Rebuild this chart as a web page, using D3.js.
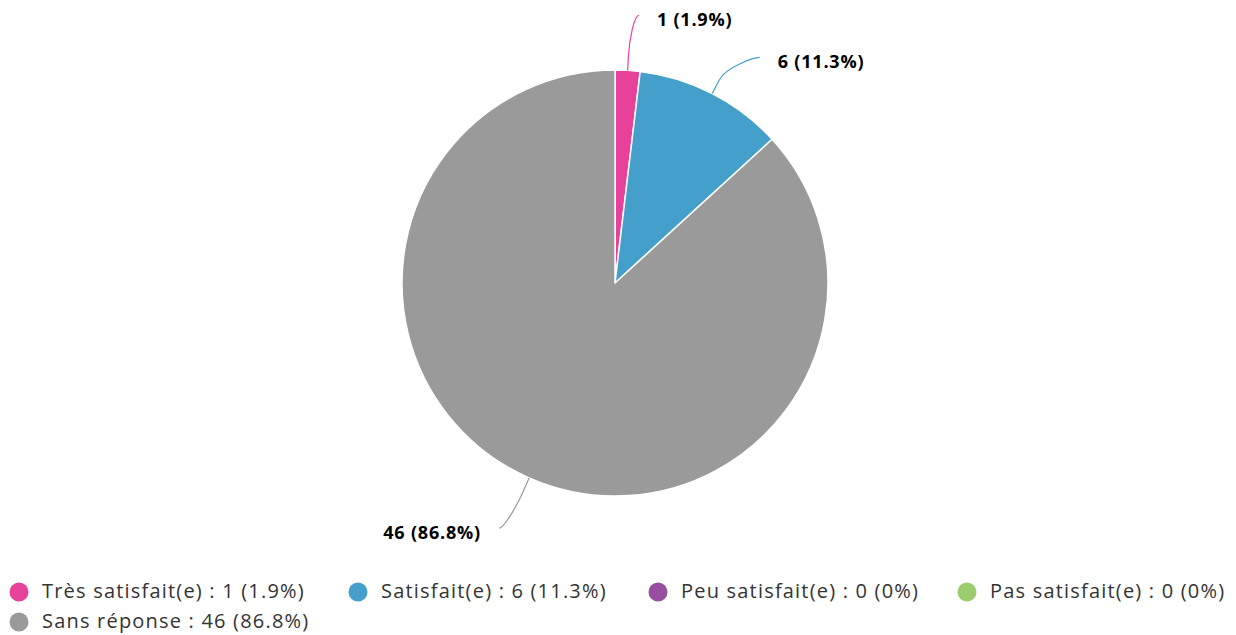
<!DOCTYPE html>
<html>
<head>
<meta charset="utf-8">
<script src="https://cdn.jsdelivr.net/npm/d3@7"></script>
<style>
  html, body { margin: 0; padding: 0; background: #ffffff; }
  svg { display: block; }
  text { font-family: "Open Sans", "Noto Sans", sans-serif; }
</style>
</head>
<body>
<svg id="chart" width="1236" height="635"></svg>
<script>
// Survey answers: satisfaction levels and their counts
const categories = ["Très satisfait(e)", "Satisfait(e)", "Peu satisfait(e)", "Pas satisfait(e)", "Sans réponse"];
const counts = [1, 6, 0, 0, 46];
const percentLabels = ["1.9%", "11.3%", "0%", "0%", "86.8%"];
const colors = ["#e8419a", "#449fcb", "#964f9e", "#9ccc6c", "#9a9a9a"];

const W = 1236, H = 635;
const cx = 615, cy = 283, radius = 213, labelRadius = 268;

const svg = d3.select("#chart");

const data = categories.map((c, i) => ({ name: c, value: counts[i], pct: percentLabels[i], color: colors[i] }));

const pie = d3.pie().sort(null).value(d => d.value);
const arcs = pie(data);
const arcGen = d3.arc().innerRadius(0).outerRadius(radius);

const g = svg.append("g").attr("transform", `translate(${cx},${cy})`);

g.selectAll("path.slice")
  .data(arcs.filter(a => a.data.value > 0))
  .join("path")
  .attr("class", "slice")
  .attr("d", arcGen)
  .attr("fill", d => d.data.color)
  .attr("stroke", "#ffffff")
  .attr("stroke-width", 1.5)
  .attr("stroke-linejoin", "round");

// Data labels placed on an outer ring, nudged apart vertically per side
const labels = arcs.filter(a => a.data.value > 0).map(a => {
  const mid = (a.startAngle + a.endAngle) / 2;
  const side = Math.sin(mid) >= 0 ? 1 : -1;
  return { a, mid, side, y: -labelRadius * Math.cos(mid) };
});
const minGap = 42;
[1, -1].forEach(side => {
  const grp = labels.filter(l => l.side === side).sort((p, q) => p.y - q.y);
  for (let i = 1; i < grp.length; i++) {
    if (grp[i].y - grp[i - 1].y < minGap) grp[i].y = grp[i - 1].y + minGap;
  }
});
const polar = (r, ang) => [r * Math.sin(ang), -r * Math.cos(ang)];
labels.forEach(l => {
  const dy = Math.max(-labelRadius, Math.min(labelRadius, l.y));
  const ringX = Math.sqrt(labelRadius * labelRadius - dy * dy);
  // x of the radial line at the label's height, so the label never sits on it
  const radialX = Math.abs(l.y * Math.tan(l.mid));
  l.x = l.side * Math.max(ringX, radialX + 8);
  l.touch = polar(radius, l.mid);
  l.brk = polar(radius + 15, l.mid);
  l.ctrl = polar(radius + 30, l.mid);
});

// Soft connectors: start at the label, bend, then run radially into the slice
g.selectAll("path.connector")
  .data(labels)
  .join("path")
  .attr("class", "connector")
  .attr("d", l => `M${l.x},${l.y} C${l.x - l.side * 5},${l.y} ${l.ctrl[0]},${l.ctrl[1]} ${l.brk[0]},${l.brk[1]} L${l.touch[0]},${l.touch[1]}`)
  .attr("fill", "none")
  .attr("stroke", l => l.a.data.color)
  .attr("stroke-width", 1.2);

g.selectAll("text.dlabel")
  .data(labels)
  .join("text")
  .attr("class", "dlabel")
  .attr("x", l => l.x + l.side * 18)
  .attr("y", l => l.y + 6)
  .attr("dominant-baseline", "middle")
  .attr("text-anchor", l => l.side > 0 ? "start" : "end")
  .attr("font-size", 18)
  .attr("font-weight", "bold")
  .attr("letter-spacing", 0.8)
  .attr("fill", "#000000")
  .text(l => `${l.a.data.value} (${l.a.data.pct})`);

// Legend: two rows of items
const legendPos = [
  { x: 19, y: 592 }, { x: 358, y: 592 }, { x: 658, y: 592 }, { x: 967, y: 592 },
  { x: 19, y: 622 }
];
const legend = svg.append("g");
const items = legend.selectAll("g.item")
  .data(data)
  .join("g")
  .attr("class", "item")
  .attr("transform", (d, i) => `translate(${legendPos[i].x},${legendPos[i].y})`);

items.append("circle")
  .attr("r", 9.5)
  .attr("fill", d => d.color);

items.append("text")
  .attr("x", 23)
  .attr("y", 1)
  .attr("dominant-baseline", "middle")
  .attr("font-size", 20)
  .attr("letter-spacing", 1.2)
  .attr("fill", "#333333")
  .text(d => `${d.name} : ${d.value} (${d.pct})`);
</script>
</body>
</html>
